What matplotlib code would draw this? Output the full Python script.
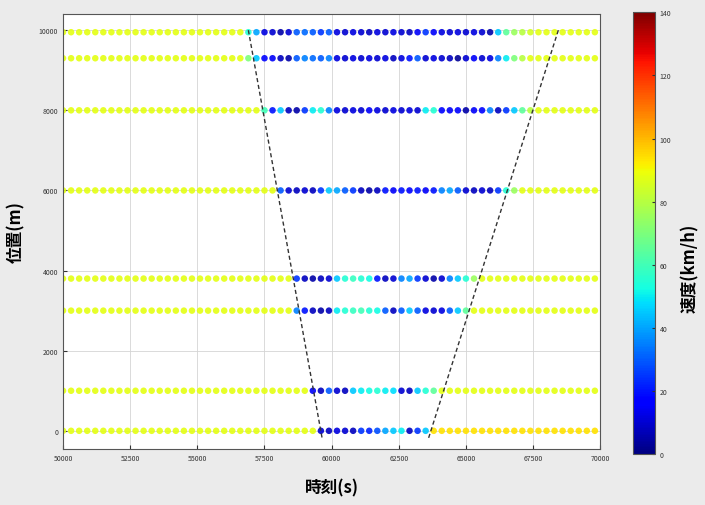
import numpy as np
import matplotlib
matplotlib.use("Agg")
import matplotlib.pyplot as plt

plt.rcParams['font.family'] = ['Noto Sans CJK JP', 'DejaVu Sans']

# sampling of the detectors (s)
t_start = 50000
t_step = 300
n_samples = 67
times = np.arange(t_start, t_start + t_step * n_samples, t_step)

# detector positions (m) and speeds (km/h)
positions = [9950, 9300, 8000, 6000, 3800, 3000, 1000, 0]

speed_9950 = [88, 88, 88, 88, 88, 88, 88, 88, 88, 88, 88, 88, 88, 88, 88, 88, 88, 88, 88, 88, 88, 88, 88,
              55, 40, 12, 10, 5, 10, 30, 32, 30, 25, 30, 12, 10, 12, 10, 8, 12, 10, 12, 10, 8, 15,
              25, 15, 12, 10, 12, 10, 12, 10, 5, 45, 65, 75, 80, 85,
              88, 88, 88, 88, 88, 88, 88, 88]
speed_9300 = [88, 88, 88, 88, 88, 88, 88, 88, 88, 88, 88, 88, 88, 88, 88, 88, 88, 88, 88, 88, 88, 88, 88,
              70, 45, 18, 15, 8, 5, 30, 35, 32, 30, 35, 12, 10, 12, 10, 12, 10, 12, 8, 12, 20, 30,
              10, 12, 10, 8, 3, 10, 15, 10, 12, 35, 50, 70, 80,
              88, 88, 88, 88, 88, 88, 88, 88, 88]
speed_8000 = [88, 88, 88, 88, 88, 88, 88, 88, 88, 88, 88, 88, 88, 88, 88, 88, 88, 88, 88, 88, 88, 88, 88, 88, 88,
              60, 20, 45, 8, 5, 25, 50, 55, 35, 12, 10, 12, 10, 15, 12, 10, 12, 10, 12, 10,
              50, 55, 18, 15, 18, 5, 15, 18, 35, 8, 25, 45, 65, 80,
              88, 88, 88, 88, 88, 88, 88, 88]
speed_6000 = [88, 88, 88, 88, 88, 88, 88, 88, 88, 88, 88, 88, 88, 88, 88, 88, 88, 88, 88, 88, 88, 88, 88, 88, 88, 88, 88,
              30, 10, 8, 10, 8, 25, 45, 40, 30, 25, 8, 5, 8, 20, 15, 20, 18, 20, 15, 20,
              35, 40, 30, 10, 8, 10, 8, 25, 55, 75,
              88, 88, 88, 88, 88, 88, 88, 88, 88, 88]
speed_3800 = [88, 88, 88, 88, 88, 88, 88, 88, 88, 88, 88, 88, 88, 88, 88, 88, 88, 88, 88, 88, 88, 88, 88, 88, 88, 88, 88, 88, 88,
              25, 8, 5, 8, 10, 45, 55, 58, 55, 52, 20, 8, 10, 35, 40, 25, 10, 5, 10, 35, 45, 55, 75,
              88, 88, 88, 88, 88, 88, 88, 88, 88, 88, 88, 88, 88, 88, 88]
speed_3000 = [88, 88, 88, 88, 88, 88, 88, 88, 88, 88, 88, 88, 88, 88, 88, 88, 88, 88, 88, 88, 88, 88, 88, 88, 88, 88, 88, 88, 88,
              35, 20, 8, 5, 8, 50, 55, 58, 60, 55, 52, 30, 8, 30, 45, 30, 12, 10, 12, 30, 45, 65,
              88, 88, 88, 88, 88, 88, 88, 88, 88, 88, 88, 88, 88, 88, 88, 88]
speed_1000 = [88, 88, 88, 88, 88, 88, 88, 88, 88, 88, 88, 88, 88, 88, 88, 88, 88, 88, 88, 88, 88, 88, 88, 88, 88, 88, 88, 88, 88, 88, 88,
              15, 8, 30, 10, 8, 45, 50, 52, 55, 50, 48, 10, 8, 45, 55, 65,
              88, 88, 88, 88, 88, 88, 88, 88, 88, 88, 88, 88, 88, 88, 88, 88, 88, 88, 88, 88]
speed_0 = [88, 88, 88, 88, 88, 88, 88, 88, 88, 88, 88, 88, 88, 88, 88, 88, 88, 88, 88, 88, 88, 88, 88, 88, 88, 88, 88, 88, 88, 88, 88, 88,
           10, 8, 12, 10, 8, 25, 22, 28, 40, 45, 50, 8, 25, 45,
           94, 94, 94, 94, 94, 94, 94, 94, 94, 94, 94, 94, 94, 94, 94, 94, 94, 94, 94, 94, 94]

speeds = [speed_9950, speed_9300, speed_8000, speed_6000,
          speed_3800, speed_3000, speed_1000, speed_0]

# congestion front lines (time, position)
front_up_t = [56900, 59650]
front_up_x = [10000, -200]
front_down_t = [68440, 63600]
front_down_x = [10000, -200]

fig = plt.figure(figsize=(7.05, 5.06), dpi=100)
fig.patch.set_facecolor('#ebebeb')
ax = fig.add_axes([0.0894, 0.111, 0.762, 0.859])

ax.grid(True, color='#d4d4d4', lw=0.6)
ax.set_axisbelow(True)

for pos, sp in zip(positions, speeds):
    sc = ax.scatter(times, np.full(len(times), pos), c=sp, cmap='jet',
                    vmin=0, vmax=140, s=22, edgecolors='none', alpha=0.9, zorder=2)

ax.plot(front_up_t, front_up_x, color='#333333', ls=(0, (3, 2)), lw=1.0, zorder=3)
ax.plot(front_down_t, front_down_x, color='#333333', ls=(0, (3, 2)), lw=1.0, zorder=3)

ax.set_xlim(50000, 70000)
ax.set_ylim(-450, 10400)
ax.set_xticks(np.arange(50000, 70001, 2500))
ax.set_yticks(np.arange(0, 10001, 2000))
ax.tick_params(direction='in', length=3, labelsize=5, colors='#333333')
for s in ax.spines.values():
    s.set_color('#555555')
    s.set_linewidth(0.8)

ax.set_xlabel('時刻(s)', fontsize=12, fontweight='bold', labelpad=12)
ax.set_ylabel('位置(m)', fontsize=12, fontweight='bold', labelpad=10)

cax = fig.add_axes([0.898, 0.10, 0.031, 0.874])
cb = fig.colorbar(sc, cax=cax, ticks=np.arange(0, 141, 20))
cb.solids.set_alpha(1)
cax.tick_params(direction='in', length=2, labelsize=5, colors='#333333')
cb.outline.set_edgecolor('#555555')
fig.text(0.979, 0.47, '速度(km/h)', rotation=90, fontsize=12, fontweight='bold',
         ha='center', va='center')

fig.savefig('out.png', dpi=100, facecolor=fig.get_facecolor())
